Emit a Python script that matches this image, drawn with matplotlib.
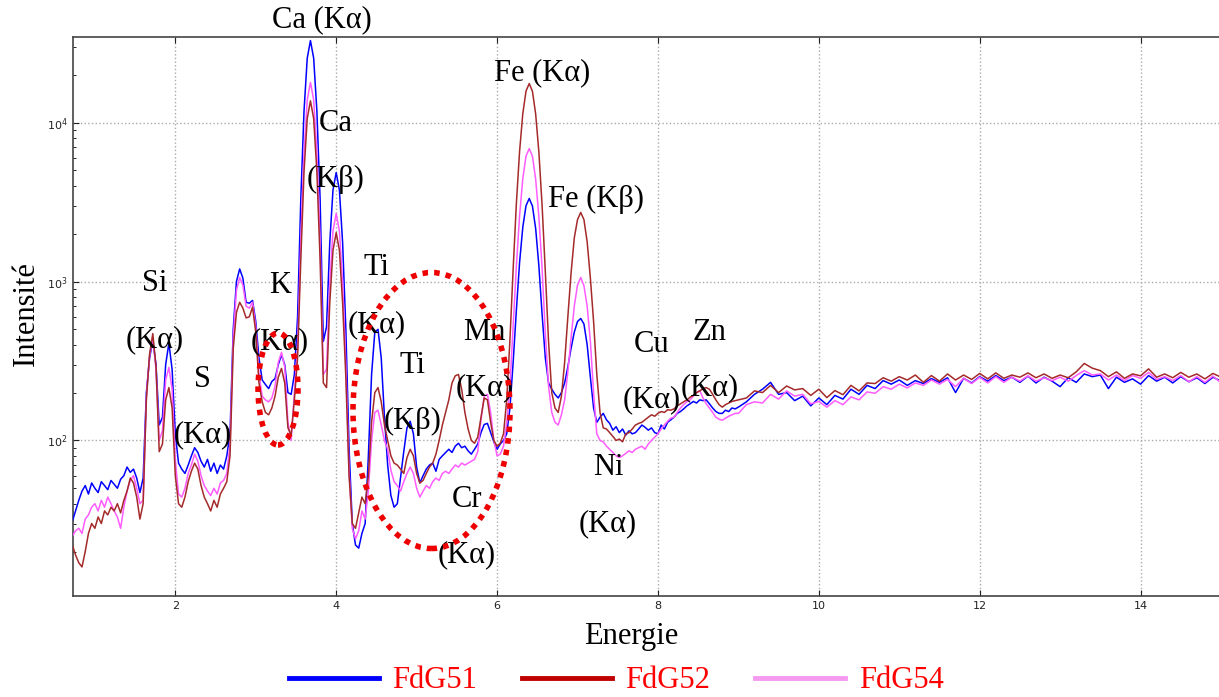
import numpy as np
import matplotlib
matplotlib.use('Agg')
import matplotlib.pyplot as plt
from matplotlib.patches import Ellipse
from matplotlib.lines import Line2D

# energy channels (keV): 0.04 keV steps up to 9 keV, then 0.1 keV steps
energie_bas = np.round(np.arange(0.72, 9.0001, 0.04), 2)
energie_haut = np.round(np.arange(9.1, 15.0001, 0.1), 1)

# FdG51 counts
fdg51_bas = [
    31, 36, 42, 48, 52, 46, 54, 50, 47, 55,
    52, 49, 56, 53, 50, 57, 60, 68, 63, 66,
    58, 47, 58, 200, 330, 425, 300, 125, 140, 300,
    410, 280, 110, 72, 66, 62, 70, 80, 90, 84,
    74, 68, 76, 64, 72, 62, 70, 66, 80, 110,
    500, 1000, 1200, 1050, 740, 730, 760, 560, 330, 240,
    225, 212, 235, 245, 300, 345, 300, 200, 195, 260,
    600, 3300, 11800, 25400, 32800, 25400, 11800, 3300, 420, 520,
    1750, 3760, 4850, 3760, 1750, 500, 90, 30, 22, 21,
    26, 30, 80, 260, 480, 500, 330, 140, 70, 45,
    38, 40, 58, 85, 120, 132, 110, 68, 54, 60,
    66, 70, 72, 64, 76, 80, 84, 88, 84, 92,
    96, 90, 92, 86, 82, 88, 95, 112, 126, 128,
    112, 98, 88, 95, 100, 110, 160, 310, 660, 1320,
    2200, 3000, 3330, 2980, 2150, 1250, 620, 330, 230, 210,
    195, 185, 200, 230, 290, 380, 480, 560, 585, 540,
    400, 250, 160, 130, 140, 148, 135, 128, 116, 122,
    112, 118, 108, 115, 110, 112, 118, 125, 121, 116,
    120, 112, 110, 125, 118, 130, 135, 140, 148, 152,
    158, 165, 170, 176, 172, 180, 178, 180, 170, 160,
    152, 148, 148, 155, 152, 160, 158, 162,
]
fdg51_haut = [
    175, 195, 210, 232, 195, 200, 178, 190, 165, 185,
    168, 192, 182, 210, 195, 222, 212, 238, 226, 240,
    222, 238, 228, 245, 232, 248, 200, 246, 230, 252,
    236, 256, 238, 250, 232, 254, 230, 250, 236, 218,
    248, 232, 262, 252, 258, 212, 250, 232, 244, 226,
    256, 236, 250, 230, 252, 234, 248, 228, 250, 236,
]

# FdG52 counts
fdg52_bas = [
    22, 19, 17, 16, 20, 26, 30, 28, 33, 30,
    36, 34, 38, 36, 40, 35, 42, 48, 58, 54,
    44, 32, 40, 180, 350, 470, 290, 85, 95, 180,
    215, 160, 60, 40, 38, 44, 55, 64, 72, 66,
    52, 44, 40, 36, 42, 38, 46, 50, 55, 80,
    380, 640, 740, 680, 590, 600, 690, 480, 230, 175,
    150, 145, 160, 190, 250, 284, 230, 120, 108, 180,
    330, 1370, 4900, 10600, 13700, 10600, 4900, 1370, 230, 215,
    730, 1570, 2030, 1570, 730, 250, 60, 30, 28, 35,
    44, 40, 60, 130, 200, 215, 175, 125, 100, 80,
    72, 70, 66, 62, 78, 88, 80, 62, 54, 56,
    62, 68, 72, 82, 100, 125, 150, 180, 230, 255,
    260, 210, 150, 118, 100, 96, 105, 140, 185, 180,
    130, 100, 92, 96, 110, 180, 430, 1200, 3100, 6600,
    11400, 15800, 17600, 15700, 11300, 6500, 3000, 1150, 420, 200,
    160, 150, 190, 310, 600, 1130, 1880, 2450, 2720, 2450,
    1780, 1050, 560, 260, 150, 120, 118, 112, 106, 100,
    102, 98, 110, 112, 118, 125, 128, 130, 135, 140,
    145, 142, 148, 152, 150, 156, 155, 158, 165, 170,
    175, 180, 187, 192, 200, 205, 212, 215, 210, 195,
    180, 168, 162, 168, 172, 176, 178, 180,
]
fdg52_haut = [
    185, 205, 200, 222, 200, 220, 208, 212, 192, 210,
    186, 206, 194, 222, 205, 230, 228, 248, 236, 252,
    240, 258, 232, 256, 236, 262, 240, 258, 242, 264,
    244, 266, 246, 258, 250, 266, 248, 262, 246, 258,
    248, 270, 305, 285, 275, 252, 270, 246, 262, 255,
    282, 250, 262, 248, 268, 250, 262, 244, 264, 250,
]

# FdG54 counts
fdg54_bas = [
    25, 27, 28, 26, 32, 34, 38, 40, 36, 42,
    38, 44, 40, 36, 33, 28, 38, 48, 56, 60,
    50, 40, 42, 190, 340, 445, 280, 100, 115, 240,
    288, 210, 75, 46, 44, 50, 62, 70, 82, 74,
    60, 52, 48, 45, 50, 46, 54, 56, 62, 95,
    440, 880, 1060, 950, 700, 680, 740, 520, 260, 190,
    180, 175, 185, 220, 310, 358, 290, 130, 100, 200,
    380, 1800, 6440, 13900, 17900, 13900, 6440, 1800, 260, 280,
    970, 2080, 2680, 2080, 970, 300, 65, 28, 24, 27,
    36, 32, 48, 100, 150, 155, 125, 100, 88, 65,
    55, 52, 48, 55, 62, 68, 62, 50, 44, 48,
    52, 50, 55, 58, 56, 62, 64, 62, 66, 70,
    68, 72, 70, 72, 74, 76, 85, 135, 190, 195,
    150, 100, 80, 82, 92, 130, 220, 520, 1250, 2600,
    4450, 6150, 6860, 6140, 4400, 2550, 1200, 470, 220, 150,
    130, 125, 145, 180, 270, 440, 700, 950, 1060, 940,
    700, 420, 200, 110, 100, 98, 92, 88, 84, 80,
    78, 80, 83, 86, 84, 88, 90, 92, 88, 95,
    100, 105, 110, 118, 125, 132, 138, 140, 150, 160,
    168, 175, 180, 190, 200, 206, 185, 170, 160, 150,
    140, 136, 134, 138, 142, 145, 148, 148,
]
fdg54_haut = [
    168, 175, 172, 195, 182, 205, 190, 195, 170, 176,
    162, 178, 168, 188, 180, 202, 198, 218, 210, 226,
    214, 230, 222, 240, 226, 242, 218, 246, 228, 250,
    230, 252, 232, 250, 236, 255, 236, 248, 238, 250,
    236, 256, 275, 258, 262, 240, 258, 238, 256, 246,
    268, 242, 252, 238, 256, 234, 252, 232, 254, 230,
]

series = ['FdG51', 'FdG52', 'FdG54']

# peak labels: (text, energy, intensity)
etiquettes = [
    ('Ca (K\u03b1)', 3.82, 44300), ('Ca', 4.00, 9820), ('(K\u03b2)', 3.99, 4360),
    ('Fe (K\u03b1)', 6.56, 20560), ('Fe (K\u03b2)', 7.23, 3270),
    ('Si', 1.745, 968), ('(K\u03b1)', 1.745, 430),
    ('K', 3.30, 940), ('(K\u03b1)', 3.30, 418),
    ('S', 2.34, 241), ('(K\u03b1)', 2.34, 109),
    ('Ti', 4.50, 1219), ('(K\u03b1)', 4.50, 535),
    ('Ti', 4.95, 295), ('(K\u03b2)', 4.95, 131),
    ('Mn', 5.84, 476), ('(K\u03b1)', 5.84, 215),
    ('Cr', 5.62, 42.4), ('(K\u03b1)', 5.62, 19.1),
    ('Ni', 7.38, 67.4), ('(K\u03b1)', 7.38, 29.9),
    ('Cu', 7.92, 400), ('(K\u03b1)', 7.92, 180),
    ('Zn', 8.64, 476), ('(K\u03b1)', 8.64, 215),
]

energie = np.concatenate([energie_bas, energie_haut])
b = np.array(fdg51_bas + fdg51_haut, dtype=float)
r = np.array(fdg52_bas + fdg52_haut, dtype=float)
p = np.array(fdg54_bas + fdg54_haut, dtype=float)

serif = ['Liberation Serif', 'DejaVu Serif']

fig = plt.figure(figsize=(12.19, 6.97), dpi=100)
ax = fig.add_axes([72.6 / 1219, 1 - 596 / 697, (1221 - 72.6) / 1219, (596 - 37.3) / 697])

ax.plot(energie, b, color='#0000ff', lw=1.1, zorder=3)
ax.plot(energie, p, color='#ff5cff', lw=1.1, zorder=3)
ax.plot(energie, r, color='#a52a2a', lw=1.1, zorder=3)

ax.set_yscale('log')
ax.set_xlim(0.723, 15.0)
ax.set_ylim(10.5, 34400)
ax.set_xticks([2, 4, 6, 8, 10, 12, 14])
ax.grid(True, which='major', linestyle=':', color='#aaaaaa', lw=1)
ax.tick_params(which='major', direction='in', length=4, labelsize=8,
               top=True, right=False, colors='#222222')
ax.tick_params(which='minor', direction='in', length=2, top=False, right=False)
for s in ax.spines.values():
    s.set_color('#444444')
    s.set_linewidth(1.2)

ax.set_xlabel('Energie', fontsize=22, family=serif)
ax.xaxis.set_label_coords(0.486, -0.047)
ax.set_ylabel('Intensit\u00e9', fontsize=22, family=serif)
ax.yaxis.set_label_coords(-0.028, 0.506)

for txt, xx, yy in etiquettes:
    ax.text(xx, yy, txt, fontsize=22, family=serif, ha='center', va='center',
            clip_on=False, zorder=5)

# red dotted ellipses around the weak peaks
for cx, cy, w, h in [(278, 389, 40, 112), (431.5, 410.5, 157, 276)]:
    e = Ellipse((cx / 1219, 1 - cy / 697), w / 1219, h / 697,
                transform=fig.transFigure, fill=False, edgecolor='#ee0000',
                lw=4, linestyle=(0, (1, 1.1)), zorder=6)
    fig.add_artist(e)

handles = [Line2D([], [], color='#0000ff', lw=3.5),
           Line2D([], [], color='#c00000', lw=3.5),
           Line2D([], [], color='#f59af0', lw=3.5)]
leg = fig.legend(handles, series, loc='center', bbox_to_anchor=(616 / 1219, 1 - 681 / 697),
                 ncol=3, frameon=False, handlelength=2.95, handletextpad=0.45,
                 columnspacing=1.45, prop={'family': serif, 'size': 22})
for t in leg.get_texts():
    t.set_color('#ff0000')

fig.savefig('out.png', dpi=100)
